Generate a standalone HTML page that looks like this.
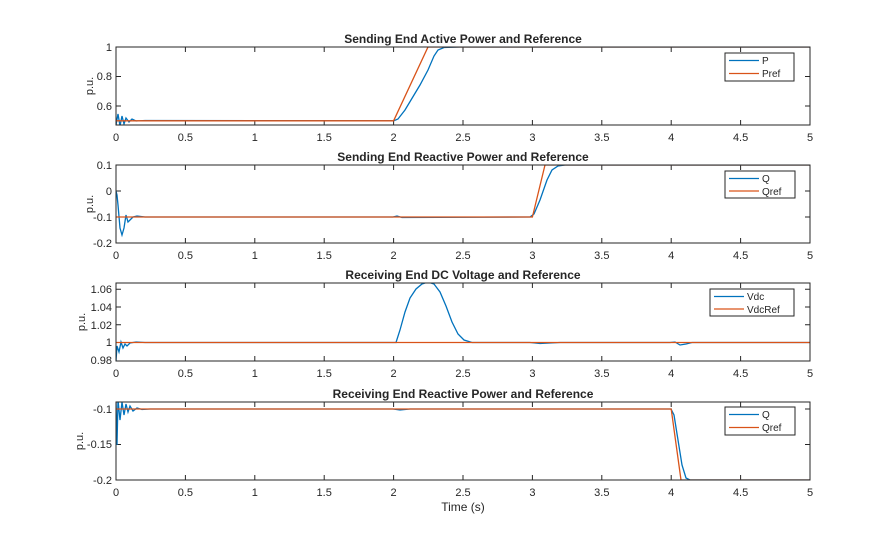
<!DOCTYPE html>
<html><head><meta charset="utf-8"><style>
body{margin:0;background:#fff}
text{font-family:"Liberation Sans",Arial,sans-serif;fill:#262626}
</style></head><body>
<svg width="895" height="540" xmlns="http://www.w3.org/2000/svg">
<defs>
<clipPath id="c1"><rect x="116" y="47" width="694" height="78"/></clipPath>
<clipPath id="c2"><rect x="116" y="165" width="694" height="78"/></clipPath>
<clipPath id="c3"><rect x="116" y="283" width="694" height="78"/></clipPath>
<clipPath id="c4"><rect x="116" y="402" width="694" height="78"/></clipPath>
</defs>
<g font-size="11" text-anchor="middle">
<!-- x tick labels -->
<g id="xl">
<text x="116" y="141">0</text><text x="185.4" y="141">0.5</text><text x="254.8" y="141">1</text><text x="324.2" y="141">1.5</text><text x="393.6" y="141">2</text><text x="463" y="141">2.5</text><text x="532.4" y="141">3</text><text x="601.8" y="141">3.5</text><text x="671.2" y="141">4</text><text x="740.6" y="141">4.5</text><text x="810" y="141">5</text>
</g>
<use href="#xl" y="118"/><use href="#xl" y="236"/><use href="#xl" y="355"/>
</g>
<g font-size="12" font-weight="bold" text-anchor="middle">
<text x="463" y="43">Sending End Active Power and Reference</text>
<text x="463" y="161">Sending End Reactive Power and Reference</text>
<text x="463" y="279">Receiving End DC Voltage and Reference</text>
<text x="463" y="398">Receiving End Reactive Power and Reference</text>
</g>
<text x="463" y="511" font-size="12" text-anchor="middle">Time (s)</text>
<g font-size="11" text-anchor="end">
<text x="112" y="51">1</text><text x="112" y="80">0.8</text><text x="112" y="110">0.6</text>
<text x="112" y="169">0.1</text><text x="112" y="195">0</text><text x="112" y="221">-0.1</text><text x="112" y="247">-0.2</text>
<text x="112" y="293">1.06</text><text x="112" y="311">1.04</text><text x="112" y="329">1.02</text><text x="112" y="346">1</text><text x="112" y="364">0.98</text>
<text x="112" y="413">-0.1</text><text x="112" y="448">-0.15</text><text x="112" y="484">-0.2</text>
</g>
<g font-size="11" text-anchor="middle">
<text transform="translate(93,86) rotate(-90)">p.u.</text>
<text transform="translate(93,204) rotate(-90)">p.u.</text>
<text transform="translate(85,322) rotate(-90)">p.u.</text>
<text transform="translate(83,441) rotate(-90)">p.u.</text>
</g>
<!-- ticks -->
<g stroke="#262626" stroke-width="1" fill="none">
<g id="xt"><path d="M185.4 125v-5M254.8 125v-5M324.2 125v-5M393.6 125v-5M463 125v-5M532.4 125v-5M601.8 125v-5M671.2 125v-5M740.6 125v-5M185.4 47v5M254.8 47v5M324.2 47v5M393.6 47v5M463 47v5M532.4 47v5M601.8 47v5M671.2 47v5M740.6 47v5"/></g>
<use href="#xt" y="118"/><use href="#xt" y="236"/><use href="#xt" y="355"/>
<path d="M116 76.5h5M116 106h5M810 76.5h-5M810 106h-5"/>
<path d="M116 191h5M116 217h5M810 191h-5M810 217h-5"/>
<path d="M116 289.3h5M116 307h5M116 324.8h5M116 342.5h5M810 289.3h-5M810 307h-5M810 324.8h-5M810 342.5h-5"/>
<path d="M116 409h5M116 444.5h5M810 409h-5M810 444.5h-5"/>
</g>
<!-- series -->
<g fill="none" stroke-width="1.3">
<g clip-path="url(#c1)">
<polyline stroke="#0072BD" points="116,125 118,114 120,126 122,116 124,124 126,118 129,122 132,119 136,121 145,120.5 393.6,120.8 398,119 405,110 420,85 428,70 434,56 438,50 444,47.5 460,47 810,47"/>
<polyline stroke="#D95319" points="116,120.8 393.6,120.8 428,47 810,47"/>
</g>
<g clip-path="url(#c2)">
<polyline stroke="#0072BD" points="116,191 117,195 118,205 120,228 122,235 124,228 126,215 128,222 130,220 133,217 137,216 145,217 393,217 397,216 402,217.5 530,217 534,214 540,200 547,180 552,170 558,166 565,165 810,165"/>
<polyline stroke="#D95319" points="116,217 532.4,217 545,165 810,165"/>
</g>
<g clip-path="url(#c3)">
<polyline stroke="#0072BD" points="116,361 117,346 119,352 121,342 123,348 125,344 127,346 130,343 136,342 145,342.5 396,342.5 400,330 405,312 410,298 416,289 422,284 428,282 434,284 440,292 446,306 452,322 458,334 464,340 472,342.5 530,342.5 540,343.5 560,342.5 670,342.5 675,342 680,345 686,344 692,342.5 810,342.5"/>
<polyline stroke="#D95319" points="116,342.5 810,342.5"/>
</g>
<g clip-path="url(#c4)">
<polyline stroke="#0072BD" points="116,400 117,445 118,400 120,420 122,402 124,415 126,404 128,412 130,406 133,411 137,408 142,409.5 150,409 393,409 400,410 410,409 671,409 674,415 678,440 682,465 686,478 690,480 810,480"/>
<polyline stroke="#D95319" points="116,409 671.2,409 681,480 810,480"/>
</g>
</g>
<!-- axes boxes -->
<g fill="none" stroke="#262626" stroke-width="1">
<rect x="116" y="47" width="694" height="78"/>
<rect x="116" y="165" width="694" height="78"/>
<rect x="116" y="283" width="694" height="78"/>
<rect x="116" y="402" width="694" height="78"/>
</g>
<!-- legends -->
<g font-size="10">
<rect x="725" y="53" width="69" height="28" fill="#fff" stroke="#262626"/>
<path d="M729 60.5h30" stroke="#0072BD" stroke-width="1.3"/><path d="M729 73.5h30" stroke="#D95319" stroke-width="1.3"/>
<text x="762" y="64">P</text><text x="762" y="77">Pref</text>
<rect x="725" y="171" width="70" height="27" fill="#fff" stroke="#262626"/>
<path d="M729 178.5h30" stroke="#0072BD" stroke-width="1.3"/><path d="M729 191h30" stroke="#D95319" stroke-width="1.3"/>
<text x="762" y="182">Q</text><text x="762" y="195">Qref</text>
<rect x="710" y="289" width="84" height="27" fill="#fff" stroke="#262626"/>
<path d="M714 296.5h30" stroke="#0072BD" stroke-width="1.3"/><path d="M714 309h30" stroke="#D95319" stroke-width="1.3"/>
<text x="747" y="300">Vdc</text><text x="747" y="313">VdcRef</text>
<rect x="725" y="407" width="70" height="28" fill="#fff" stroke="#262626"/>
<path d="M729 414.5h30" stroke="#0072BD" stroke-width="1.3"/><path d="M729 427.5h30" stroke="#D95319" stroke-width="1.3"/>
<text x="762" y="418">Q</text><text x="762" y="431">Qref</text>
</g>
</svg>
</body></html>
